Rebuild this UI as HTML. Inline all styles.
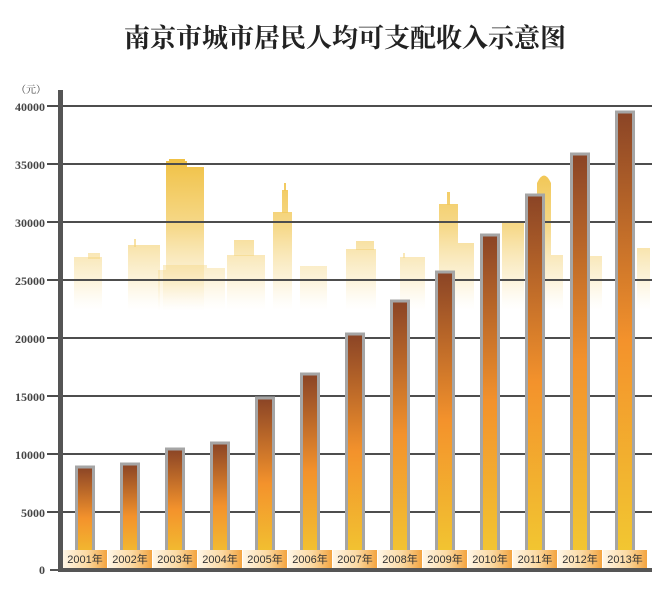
<!DOCTYPE html>
<html><head><meta charset="utf-8"><style>
body{margin:0;background:#fff;}
svg{display:block;}
</style></head><body>
<svg width="665" height="589" viewBox="0 0 665 589" xmlns="http://www.w3.org/2000/svg">
<defs>
<linearGradient id="sky" gradientUnits="userSpaceOnUse" x1="0" y1="160" x2="0" y2="310">
<stop offset="0" stop-color="#f0c145" stop-opacity="1"/>
<stop offset="0.45" stop-color="#f3cc63" stop-opacity="0.75"/>
<stop offset="0.8" stop-color="#f6dc95" stop-opacity="0.35"/>
<stop offset="1" stop-color="#fbeac0" stop-opacity="0"/>
</linearGradient>
<linearGradient id="bar" x1="0" y1="0" x2="0" y2="1">
<stop offset="0" stop-color="#8a4426"/>
<stop offset="0.5" stop-color="#f3922c"/>
<stop offset="1" stop-color="#f2cb32"/>
</linearGradient>
<linearGradient id="lab" x1="0" y1="0" x2="1" y2="0">
<stop offset="0" stop-color="#fff6e6"/>
<stop offset="0.55" stop-color="#fbd9a2"/>
<stop offset="1" stop-color="#f3a440"/>
</linearGradient>
</defs>
<text x="345" y="47" text-anchor="middle" font-family="Liberation Serif, 'Noto Serif CJK SC', serif" font-weight="bold" font-size="26" fill="#222">南京市城市居民人均可支配收入示意图</text>
<!-- skyline -->
<g fill="url(#sky)">
<rect x="74" y="257" width="28" height="55"/><rect x="88" y="253" width="12" height="6"/>
<rect x="128" y="245" width="32" height="67"/><rect x="134" y="239" width="2" height="8"/><rect x="158" y="270" width="8" height="42"/>
<rect x="166" y="161" width="21" height="151"/><rect x="169" y="159" width="16" height="4"/><rect x="187" y="167" width="17" height="145"/><rect x="163" y="265" width="44" height="47"/>
<rect x="207" y="268" width="18" height="44"/>
<rect x="227" y="255" width="38" height="57"/><rect x="234" y="240" width="20" height="16"/>
<rect x="273" y="212" width="19" height="100"/><rect x="282" y="190" width="6" height="23"/><rect x="284" y="183" width="2" height="8"/>
<rect x="300" y="266" width="27" height="46"/>
<rect x="346" y="249" width="30" height="63"/><rect x="356" y="241" width="18" height="9"/>
<rect x="400" y="257" width="25" height="55"/><rect x="403" y="253" width="2" height="5"/>
<rect x="439" y="204" width="19" height="108"/><rect x="447" y="192" width="3" height="13"/><rect x="458" y="243" width="16" height="69"/>
<rect x="502" y="223" width="22" height="89"/>
<path d="M537 312 V183 Q544 168 551 183 V312 Z"/><rect x="551" y="255" width="12" height="57"/>
<rect x="588" y="256" width="14" height="56"/>
<rect x="637" y="248" width="13" height="64"/>
</g>
<!-- grid -->
<g stroke="#4d4d4d" stroke-width="2">
<line x1="47" y1="106" x2="652" y2="106"/>
<line x1="47" y1="164" x2="652" y2="164"/>
<line x1="47" y1="222" x2="652" y2="222"/>
<line x1="47" y1="280" x2="652" y2="280"/>
<line x1="47" y1="338" x2="652" y2="338"/>
<line x1="47" y1="396" x2="652" y2="396"/>
<line x1="47" y1="454" x2="652" y2="454"/>
<line x1="47" y1="512" x2="652" y2="512"/>
</g>
<g font-family="Liberation Serif, serif" font-weight="bold" font-size="12" fill="#444" text-anchor="end">
<text x="45" y="111">40000</text><text x="45" y="169">35000</text><text x="45" y="227">30000</text>
<text x="45" y="285">25000</text><text x="45" y="343">20000</text><text x="45" y="401">15000</text>
<text x="45" y="459">10000</text><text x="45" y="517">5000</text><text x="45" y="574">0</text>
</g>
<text x="16" y="93" font-family="Liberation Serif, 'Noto Serif CJK SC', serif" font-size="10" fill="#444">（元）</text>
<!-- bars -->
<g stroke="#a5a5a5" stroke-width="3" fill="url(#bar)">
<rect x="76.5" y="467" width="17" height="102"/>
<rect x="121.5" y="464" width="17" height="105"/>
<rect x="166.5" y="449" width="17" height="120"/>
<rect x="211.5" y="443" width="17" height="126"/>
<rect x="256.5" y="398" width="17" height="171"/>
<rect x="301.5" y="374" width="17" height="195"/>
<rect x="346.5" y="334" width="17" height="235"/>
<rect x="391.5" y="301" width="17" height="268"/>
<rect x="436.5" y="272" width="17" height="297"/>
<rect x="481.5" y="235" width="17" height="334"/>
<rect x="526.5" y="195" width="17" height="374"/>
<rect x="571.5" y="154" width="17" height="415"/>
<rect x="616.5" y="112" width="17" height="457"/>
</g>
<!-- labels -->
<g fill="url(#lab)">
<rect x="63" y="550" width="44" height="18"/><rect x="108" y="550" width="44" height="18"/><rect x="153" y="550" width="44" height="18"/>
<rect x="198" y="550" width="44" height="18"/><rect x="243" y="550" width="44" height="18"/><rect x="288" y="550" width="44" height="18"/>
<rect x="333" y="550" width="44" height="18"/><rect x="378" y="550" width="44" height="18"/><rect x="423" y="550" width="44" height="18"/>
<rect x="468" y="550" width="44" height="18"/><rect x="513" y="550" width="44" height="18"/><rect x="558" y="550" width="44" height="18"/>
<rect x="603" y="550" width="44" height="18"/>
</g>
<g font-family="Liberation Sans, 'Noto Sans CJK SC', sans-serif" font-size="11" fill="#333" text-anchor="middle">
<text x="85" y="563">2001年</text><text x="130" y="563">2002年</text><text x="175" y="563">2003年</text>
<text x="220" y="563">2004年</text><text x="265" y="563">2005年</text><text x="310" y="563">2006年</text>
<text x="355" y="563">2007年</text><text x="400" y="563">2008年</text><text x="445" y="563">2009年</text>
<text x="490" y="563">2010年</text><text x="535" y="563">2011年</text><text x="580" y="563">2012年</text>
<text x="625" y="563">2013年</text>
</g>
<!-- axes -->
<rect x="58" y="90" width="5" height="482" fill="#555"/>
<rect x="58" y="568" width="594" height="4" fill="#555"/>
<line x1="50" y1="570" x2="58" y2="570" stroke="#555" stroke-width="2"/>
</svg>
</body></html>
